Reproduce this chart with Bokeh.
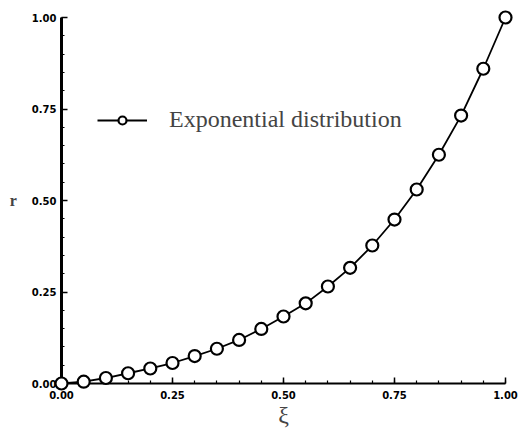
from bokeh.plotting import figure
from bokeh.models import FixedTicker, PrintfTickFormatter, Legend, LegendItem, Range1d
from bokeh.embed import file_html
from bokeh.resources import INLINE

xi = [0.00, 0.05, 0.10, 0.15, 0.20, 0.25, 0.30, 0.35, 0.40, 0.45, 0.50,
      0.55, 0.60, 0.65, 0.70, 0.75, 0.80, 0.85, 0.90, 0.95, 1.00]
r = [0.000, 0.005, 0.015, 0.028, 0.041, 0.056, 0.075, 0.095, 0.119, 0.149, 0.183,
     0.219, 0.265, 0.316, 0.377, 0.448, 0.530, 0.625, 0.732, 0.860, 1.000]
major_ticks = [0.0, 0.25, 0.5, 0.75, 1.0]
minor_ticks = [round(0.05 * i, 2) for i in range(21)]
series_label = "Exponential distribution"

p = figure(width=518, height=432, output_backend="svg", toolbar_location=None,
           x_range=Range1d(0, 1), y_range=Range1d(0, 1),
           min_border_left=61, min_border_right=13, min_border_top=17, min_border_bottom=49)
p.outline_line_color = None
p.grid.visible = False
p.background_fill_color = "white"

for ax in (p.xaxis[0], p.yaxis[0]):
    ax.ticker = FixedTicker(ticks=major_ticks, minor_ticks=minor_ticks)
    ax.formatter = PrintfTickFormatter(format="%.2f")
    ax.major_tick_in = 6
    ax.major_tick_out = 0
    ax.minor_tick_in = 3
    ax.minor_tick_out = 0
    ax.major_label_text_font = "DejaVu Sans"
    ax.major_label_text_font_style = "bold"
    ax.major_label_text_font_size = "10px"
    ax.major_label_text_color = "black"
    ax.axis_line_color = "black"
    ax.major_tick_line_color = "black"
    ax.minor_tick_line_color = "black"
    ax.major_tick_line_width = 1.5
    ax.minor_tick_line_width = 1.2

p.yaxis.axis_line_width = 3
p.xaxis.axis_line_width = 2
p.yaxis.major_label_standoff = 5
p.xaxis.major_label_standoff = 7

p.xaxis.axis_label = "ξ"
p.xaxis.axis_label_text_font = "Liberation Serif"
p.xaxis.axis_label_text_font_style = "normal"
p.xaxis.axis_label_text_font_size = "24px"
p.xaxis.axis_label_standoff = 0

p.yaxis.axis_label = "r"
p.yaxis.axis_label_orientation = "horizontal"
p.yaxis.axis_label_text_font = "Liberation Serif"
p.yaxis.axis_label_text_font_style = "bold"
p.yaxis.axis_label_text_font_size = "16px"
p.yaxis.axis_label_standoff = 12

ln = p.line(xi, r, line_color="black", line_width=1.8, level="overlay")
sc = p.scatter(xi, r, marker="circle", size=12, fill_color="white",
               line_color="black", line_width=2.2, level="overlay")

legend = Legend(items=[LegendItem(label=series_label, renderers=[ln, sc])],
                location=(36, 250), glyph_width=50, glyph_height=20,
                label_standoff=22, padding=0, margin=0,
                border_line_color=None, background_fill_alpha=0,
                label_text_font="Liberation Serif", label_text_font_size="24px")
p.add_layout(legend)

open("out.html", "w").write(file_html(p, INLINE))
